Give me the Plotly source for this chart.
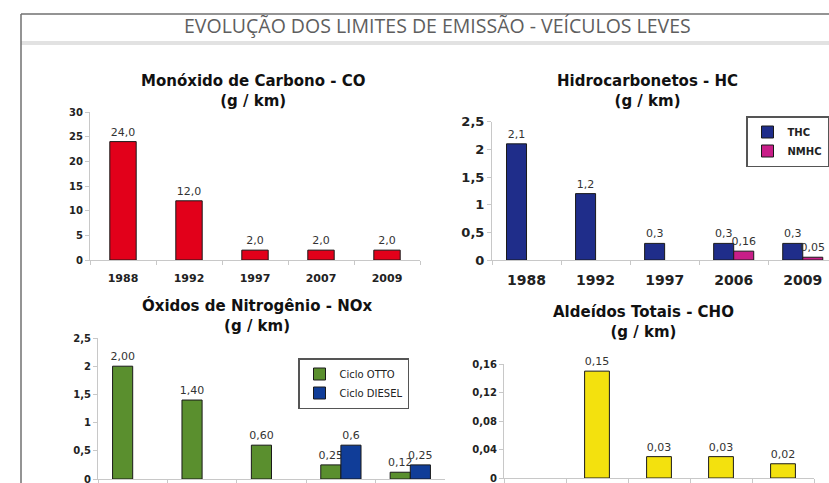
import plotly.graph_objects as go

# ---------------- data ----------------
page_title = "EVOLUÇÃO DOS LIMITES DE EMISSÃO - VEÍCULOS LEVES"

co_title = "Monóxido de Carbono - CO<br>(g / km)"
co_years = ["1988", "1992", "1997", "2007", "2009"]
co_values = [24.0, 12.0, 2.0, 2.0, 2.0]

hc_title = "Hidrocarbonetos - HC<br>(g / km)"
hc_years = ["1988", "1992", "1997", "2006", "2009"]
thc_values = [2.1, 1.2, 0.3, 0.3, 0.3]
nmhc_values = [None, None, None, 0.16, 0.05]

nox_title = "Óxidos de Nitrogênio - NOx<br>(g / km)"
nox_years = ["1988", "1992", "1997", "2006", "2009"]
otto_values = [2.00, 1.40, 0.60, 0.25, 0.12]
diesel_values = [None, None, None, 0.6, 0.25]
diesel_labels = ["", "", "", "0,6", "0,25"]

cho_title = "Aldeídos Totais - CHO<br>(g / km)"
cho_years = ["1988", "1992", "1997", "2006", "2009"]
cho_values = [None, 0.15, 0.03, 0.03, 0.02]

# ---------------- helpers ----------------
W, H = 829, 483
def px(x):
    return x / W
def py(y):
    return 1 - y / H

FONT = "DejaVu Sans, Verdana, Arial, sans-serif"
OUTLINE = dict(color="#1a1a1a", width=1)
LABEL_FONT = dict(family=FONT, size=11, color="#333333")

fig = go.Figure()

# CO
fig.add_trace(go.Bar(
    x=co_years, y=co_values, xaxis="x", yaxis="y",
    marker=dict(color="#e2001a", line=OUTLINE), width=0.4, offset=-0.2,
    texttemplate="%{y:.1f}", textposition="outside", textfont=LABEL_FONT,
    constraintext="none", cliponaxis=False, showlegend=False, name="CO"))

# HC
fig.add_trace(go.Bar(
    x=hc_years, y=thc_values, xaxis="x2", yaxis="y2", name="THC",
    marker=dict(color="#1f2d8a", line=OUTLINE), width=0.29, offset=-0.29,
    texttemplate="%{y:.1f}", textposition="outside", textfont=LABEL_FONT,
    constraintext="none", cliponaxis=False, legend="legend"))
fig.add_trace(go.Bar(
    x=hc_years, y=nmhc_values, xaxis="x2", yaxis="y2", name="NMHC",
    marker=dict(color="#c81e88", line=OUTLINE), width=0.29, offset=0.0,
    texttemplate="%{y:.2f}", textposition="outside", textfont=LABEL_FONT,
    constraintext="none", cliponaxis=True, legend="legend"))

# NOx
fig.add_trace(go.Bar(
    x=nox_years, y=otto_values, xaxis="x3", yaxis="y3", name="Ciclo OTTO",
    marker=dict(color="#5a8f2e", line=OUTLINE), width=0.29, offset=-0.29,
    texttemplate="%{y:.2f}", textposition="outside", textfont=LABEL_FONT,
    constraintext="none", cliponaxis=False, legend="legend2"))
fig.add_trace(go.Bar(
    x=nox_years, y=diesel_values, xaxis="x3", yaxis="y3", name="Ciclo DIESEL",
    marker=dict(color="#103d98", line=OUTLINE), width=0.29, offset=0.0,
    text=diesel_labels, texttemplate="%{text}", textposition="outside", textfont=LABEL_FONT,
    constraintext="none", cliponaxis=False, legend="legend2"))

# CHO
fig.add_trace(go.Bar(
    x=cho_years, y=cho_values, xaxis="x4", yaxis="y4",
    marker=dict(color="#f3e10e", line=OUTLINE), width=0.4, offset=-0.2,
    texttemplate="%{y:.2f}", textposition="outside", textfont=LABEL_FONT,
    constraintext="none", cliponaxis=False, showlegend=False, name="CHO"))

AX_COL = "#c8c8c8"
def xax(domain, anchor, rng, size, show=True, standoff=4):
    return dict(domain=domain, anchor=anchor, type="category", range=rng,
                showline=True, linecolor=AX_COL, linewidth=1, ticks="outside",
                tickson="boundaries", ticklen=4, tickcolor=AX_COL, showgrid=False,
                zeroline=False, automargin=False, fixedrange=True,
                showticklabels=show, ticklabelstandoff=standoff,
                tickfont=dict(family=FONT, size=size, color="#222222", weight="bold"))
def yax(domain, anchor, rng, dtick, size):
    return dict(domain=domain, anchor=anchor, range=rng, dtick=dtick,
                showline=True, linecolor=AX_COL, linewidth=1, ticks="outside",
                ticklen=4, tickcolor=AX_COL, showgrid=False, zeroline=False,
                automargin=False, fixedrange=True, ticklabeloverflow="allow",
                tickfont=dict(family=FONT, size=size, color="#222222", weight="bold"))

fig.update_layout(
    width=W, height=H, margin=dict(l=0, r=0, t=0, b=0),
    paper_bgcolor="white", plot_bgcolor="white",
    separators=",.", template="none", barmode="overlay",
    font=dict(family=FONT, color="#222222"),
    xaxis=xax([px(90), px(420)], "y", [-0.5, 4.5], 11, standoff=8),
    yaxis=yax([py(260), py(112)], "x", [0, 30], 5, 10),
    xaxis2=xax([px(492), 1.0], "y2", [-0.5, 4.38], 14, standoff=7),
    yaxis2=yax([py(260), py(121.7)], "x2", [0, 2.5], 0.5, 13),
    xaxis3=xax([px(98), px(445)], "y3", [-0.5, 4.5], 11, show=False),
    yaxis3=yax([py(479), py(338)], "x3", [0, 2.5], 0.5, 10),
    xaxis4=xax([px(504), px(814)], "y4", [-0.5, 4.5], 11, show=False),
    yaxis4=yax([py(478), py(364)], "x4", [0, 0.16], 0.04, 10),
    legend=dict(x=1.0, y=py(116), xanchor="right", yanchor="top",
                bordercolor="#555555", borderwidth=1.5, bgcolor="white",
                font=dict(family=FONT, size=10, color="#222222", weight="bold"),
                itemwidth=30, tracegroupgap=0),
    legend2=dict(x=px(298), y=py(358), xanchor="left", yanchor="top",
                 bordercolor="#555555", borderwidth=1.5, bgcolor="white",
                 font=dict(family=FONT, size=10, color="#222222"),
                 itemwidth=30, tracegroupgap=0),
)

# chart titles
TITLE_FONT = dict(family=FONT, size=15, color="#111111", weight="bold")
for txt, cx, cy in [(co_title, 253, 90.5), (hc_title, 647, 90.5),
                    (nox_title, 257, 315.5), (cho_title, 643, 321.5)]:
    fig.add_annotation(text=txt, x=px(cx), y=py(cy), xref="paper", yref="paper",
                       xanchor="center", yanchor="middle", showarrow=False,
                       font=TITLE_FONT, align="center")

# page title and frame
fig.add_annotation(text=page_title, x=px(437), y=py(25), xref="paper", yref="paper",
                   xanchor="center", yanchor="middle", showarrow=False,
                   font=dict(family="Open Sans, Liberation Sans Narrow, sans-serif",
                             size=19.5, color="#5e5e5e"))
fig.add_shape(type="rect", xref="paper", yref="paper", x0=px(21), x1=1.0,
              y0=py(45), y1=py(41), fillcolor="#e2e2e2", line=dict(width=0), layer="below")
fig.add_shape(type="line", xref="paper", yref="paper", x0=px(21), x1=px(21),
              y0=0, y1=py(14), line=dict(color="#707070", width=1.5))
fig.add_shape(type="line", xref="paper", yref="paper", x0=px(21), x1=1.0,
              y0=py(14), y1=py(14), line=dict(color="#707070", width=1.5))

fig.write_html("out.html", config={"displayModeBar": False})
